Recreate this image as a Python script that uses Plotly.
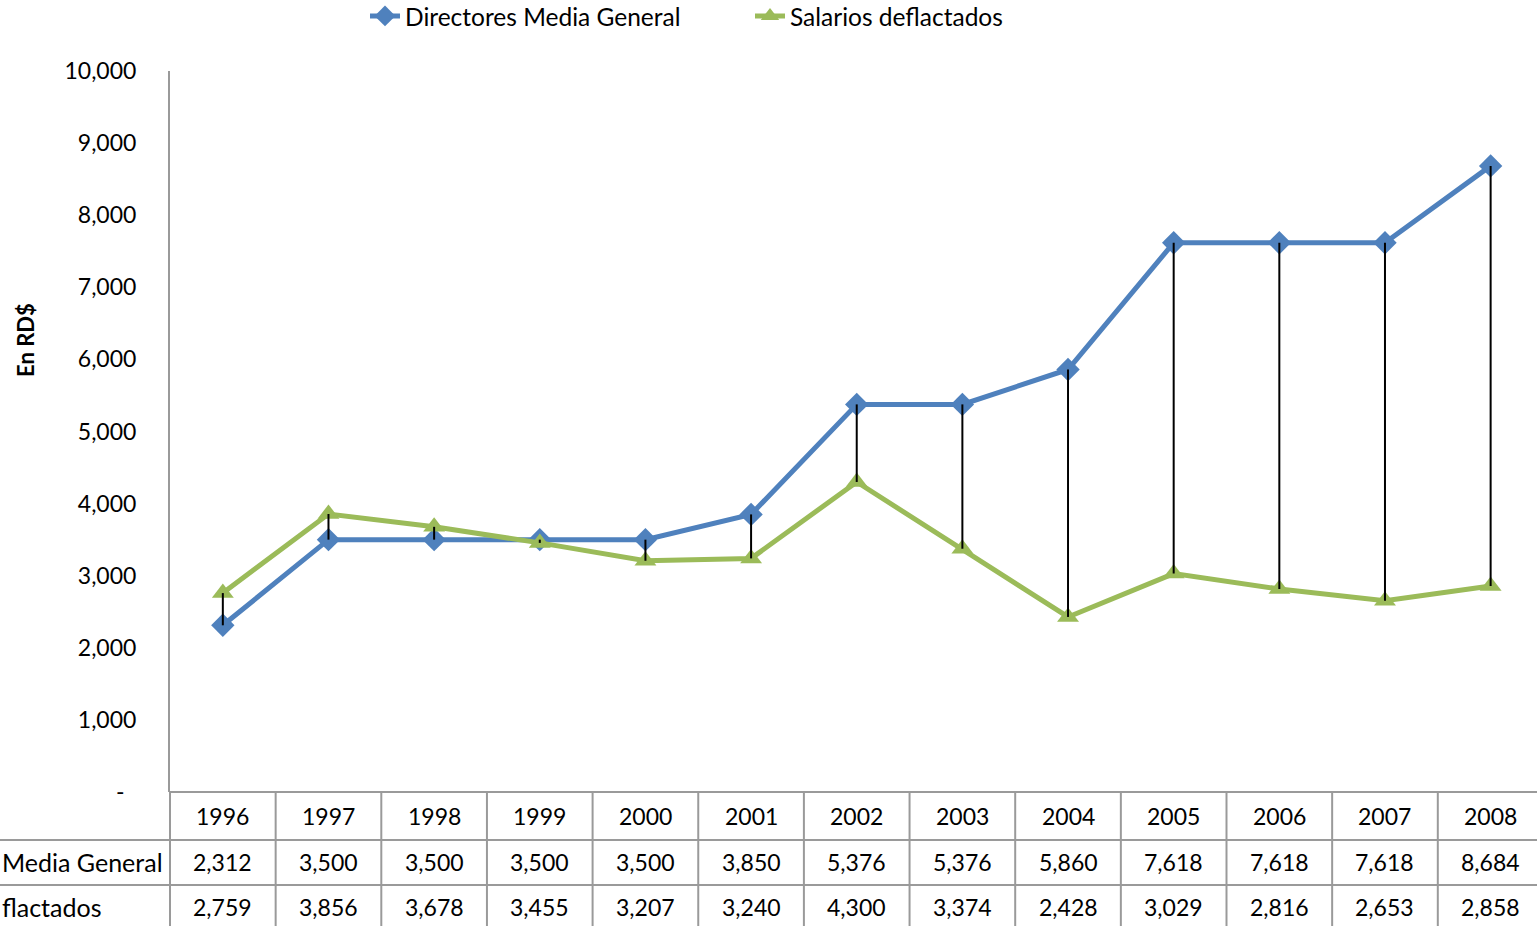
import plotly.graph_objects as go

W, H = 1537, 926
years = ["1996", "1997", "1998", "1999", "2000", "2001", "2002", "2003", "2004", "2005", "2006", "2007", "2008"]
directores = [2312, 3500, 3500, 3500, 3500, 3850, 5376, 5376, 5860, 7618, 7618, 7618, 8684]
salarios = [2759, 3856, 3678, 3455, 3207, 3240, 4300, 3374, 2428, 3029, 2816, 2653, 2858]
series_names = ["Directores Media General", "Salarios deflactados"]
row_labels = ["Media General", "flactados"]
y_ticks = [0, 1000, 2000, 3000, 4000, 5000, 6000, 7000, 8000, 9000, 10000]
y_ticktext = ["-\u00a0\u00a0"] + [f"{v:,}" for v in y_ticks[1:]]

FONT = "Lato"
FS = 23
BLUE = "#4F81BD"
GREEN = "#9BBB59"
GRID = "#9a9a9a"

def py(p):
    return (H - p) / H

def px(p):
    return p / W

x_left, y_top, y_bot = 170, 71, 792
band = 105.65  # pixel width of one category band
x_max = -0.5 + (W - x_left) / band

fig = go.Figure()
fig.add_trace(go.Scatter(x=years, y=directores, name=series_names[0], mode="lines+markers",
                         line=dict(color=BLUE, width=5),
                         marker=dict(symbol="diamond", size=18, color=BLUE)))
fig.add_trace(go.Scatter(x=years, y=salarios, name=series_names[1], mode="lines+markers",
                         line=dict(color=GREEN, width=5),
                         marker=dict(symbol="triangle-up", size=19, color=GREEN)))
# high-low lines
hx, hy = [], []
for yr, a, b in zip(years, directores, salarios):
    hx += [yr, yr, None]
    hy += [min(a, b), max(a, b), None]
fig.add_trace(go.Scatter(x=hx, y=hy, mode="lines", line=dict(color="black", width=2),
                         showlegend=False, hoverinfo="skip"))

shapes = []
shapes.append(dict(type="line", xref="paper", yref="paper", x0=px(x_left), x1=px(x_left),
                   y0=py(y_bot), y1=0, line=dict(color=GRID, width=2)))
shapes.append(dict(type="line", xref="paper", yref="paper", x0=px(x_left), x1=1,
                   y0=py(y_bot), y1=py(y_bot), line=dict(color=GRID, width=2)))
for yl in [840, 885]:
    shapes.append(dict(type="line", xref="paper", yref="paper", x0=0, x1=1,
                       y0=py(yl), y1=py(yl), line=dict(color=GRID, width=2)))
for i in range(1, len(years)):
    shapes.append(dict(type="line", xref="x", yref="paper", x0=i - 0.5, x1=i - 0.5,
                       y0=py(y_bot), y1=0, line=dict(color=GRID, width=2)))

tfont = dict(family=FONT, size=FS, color="black")
lfont = dict(family=FONT, size=25, color="black")
ann = []
row_y = [816, 862, 907]
for i, yr in enumerate(years):
    for ry, txt in zip(row_y, [yr, f"{directores[i]:,}", f"{salarios[i]:,}"]):
        ann.append(dict(x=i, y=py(ry), xref="x", yref="paper", text=txt, showarrow=False,
                        xanchor="center", yanchor="middle", font=tfont))
ann.append(dict(x=0, y=py(row_y[1]), xref="paper", yref="paper", text=row_labels[0],
                xanchor="left", yanchor="middle", showarrow=False, font=lfont))
ann.append(dict(x=0, y=py(row_y[2]), xref="paper", yref="paper", text=row_labels[1],
                xanchor="left", yanchor="middle", showarrow=False, font=lfont))
ann.append(dict(x=px(25), y=py(340), xref="paper", yref="paper", text="<b>En RD$</b>",
                textangle=-90, xanchor="center", yanchor="middle", showarrow=False,
                font=dict(family=FONT, size=22, color="black")))

fig.update_layout(
    width=W, height=H,
    margin=dict(l=0, r=0, t=0, b=0, pad=0, autoexpand=False),
    paper_bgcolor="white", plot_bgcolor="white",
    font=dict(family=FONT, size=FS, color="black"),
    showlegend=True,
    legend=dict(orientation="h", x=px(365), y=1.007, xanchor="left", yanchor="top",
                font=dict(family=FONT, size=24.5, color="black"),
                entrywidth=340, entrywidthmode="pixels",
                bgcolor="rgba(0,0,0,0)", tracegroupgap=0),
    xaxis=dict(domain=[px(x_left), 1], type="category", range=[-0.5, x_max],
               showticklabels=False, showgrid=False, zeroline=False, showline=False, ticks="",
               automargin=False),
    yaxis=dict(domain=[py(y_bot), py(y_top)], range=[0, 10000], tickvals=y_ticks,
               ticktext=y_ticktext, showgrid=False, zeroline=False, showline=True,
               linecolor=GRID, linewidth=2, ticks="", ticklabelstandoff=27, automargin=False,
               tickfont=dict(family=FONT, size=FS, color="black")),
    shapes=shapes, annotations=ann,
)

fig.write_html("out.html", config={"displayModeBar": False},
               post_script="document.body.style.margin='0';")
